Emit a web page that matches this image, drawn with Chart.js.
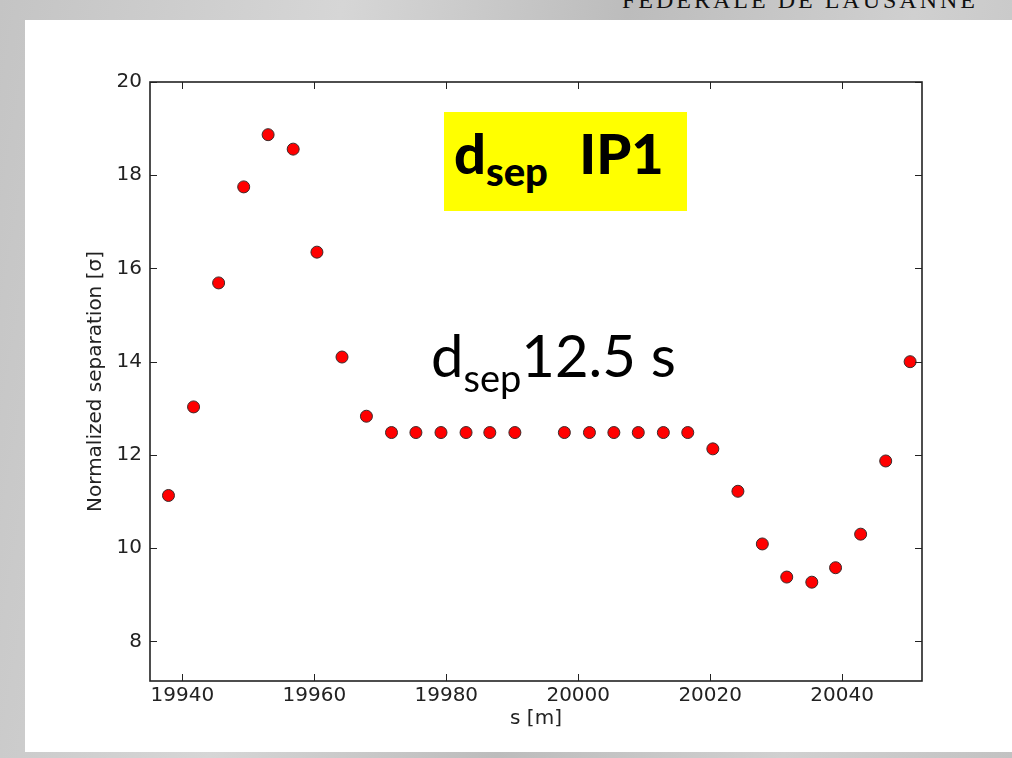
<!DOCTYPE html>
<html>
<head>
<meta charset="utf-8">
<title>Normalized separation IP1</title>
<script src="https://cdn.jsdelivr.net/npm/chart.js@4/dist/chart.umd.min.js"></script>
<style>
    html, body {
        margin: 0;
        padding: 0;
        width: 1012px;
        height: 758px;
        overflow: hidden;
    }
    body {
        position: relative;
        background: linear-gradient(100deg, #c4c4c4 0%, #d6d6d6 30%, #bcbcbc 55%, #d0d0d0 80%, #c2c2c2 100%);
    }
    #panel {
        position: absolute;
        left: 25px;
        top: 20px;
        width: 987px;
        height: 732px;
        background: #ffffff;
    }
    #header {
        position: absolute;
        left: 622px;
        top: -9px;
        width: 390px;
        height: 18px;
        overflow: hidden;
        font-family: "Liberation Serif", serif;
        font-size: 24px;
        line-height: 18px;
        letter-spacing: 3px;
        color: #111;
        white-space: nowrap;
    }
    #sep-chart {
        position: absolute;
        left: 0;
        top: 0;
    }
    #tag-box {
        position: absolute;
        left: 444px;
        top: 112px;
        width: 243px;
        height: 99px;
        background: #ffff00;
    }
    .label-line {
        position: absolute;
        font-family: Lato, "Open Sans", sans-serif;
        line-height: 1;
        white-space: nowrap;
        color: #000;
    }
    .label-line sub {
        vertical-align: baseline;
        position: relative;
    }
    #tag-text {
        left: 454px;
        top: 125px;
        font-size: 56px;
        font-weight: 900;
    }
    #tag-text sub {
        font-size: 40px;
        top: 12px;
    }
    #tag-text .ip {
        margin-left: 18px;
    }
    #note-text {
        left: 431px;
        top: 326px;
        font-size: 58px;
        font-weight: 400;
    }
    #note-text sub {
        font-size: 38px;
        top: 15px;
    }
</style>
</head>
<body>
<div id="panel"></div>
<div id="header">FÉDÉRALE DE LAUSANNE</div>
<canvas id="sep-chart" width="1012" height="758"></canvas>
<div id="tag-box"></div>
<div id="tag-text" class="label-line">d<sub>sep</sub> <span class="ip">IP1</span></div>
<div id="note-text" class="label-line">d<sub>sep</sub>12.5 s</div>

<script>
// Beam positions along the ring [m] and normalized separation [sigma]
const sPositions = [
    19937.9, 19941.7, 19945.5, 19949.3, 19953.0, 19956.8, 19960.4, 19964.2,
    19967.9, 19971.7, 19975.4, 19979.2, 19983.0, 19986.6, 19990.4,
    19997.9, 20001.7, 20005.4, 20009.1, 20012.9, 20016.6, 20020.4, 20024.2,
    20027.9, 20031.6, 20035.4, 20039.0, 20042.8, 20046.6, 20050.3
];
const separation = [
    11.13, 13.03, 15.69, 17.75, 18.87, 18.56, 16.35, 14.10,
    12.83, 12.48, 12.48, 12.48, 12.48, 12.48, 12.48,
    12.48, 12.48, 12.48, 12.48, 12.48, 12.48, 12.13, 11.22,
    10.09, 9.38, 9.27, 9.58, 10.30, 11.87, 14.00
];

// Axis ticks and limits
const xTickValues = [19940, 19960, 19980, 20000, 20020, 20040];
const yTickValues = [8, 10, 12, 14, 16, 18, 20];
const X_MIN = 19935.1;
const X_MAX = 20052.1;
const Y_MIN = 7.15;
const Y_MAX = 20;

const TICK_LEN = 7;
const AXIS_FONT = { family: '"DejaVu Sans", sans-serif', size: 20 };

// matplotlib style box: frame on all four sides with inward ticks
const frameTicks = {
    id: 'frameTicks',
    afterDatasetsDraw(chart) {
        const { ctx, chartArea: area, scales: { x, y } } = chart;
        ctx.save();
        ctx.strokeStyle = '#222';
        ctx.lineWidth = 1;
        ctx.beginPath();
        x.ticks.forEach(t => {
            const px = Math.round(x.getPixelForValue(t.value)) + 0.5;
            ctx.moveTo(px, area.bottom);
            ctx.lineTo(px, area.bottom - TICK_LEN);
            ctx.moveTo(px, area.top);
            ctx.lineTo(px, area.top + TICK_LEN);
        });
        y.ticks.forEach(t => {
            const py = Math.round(y.getPixelForValue(t.value)) + 0.5;
            ctx.moveTo(area.left, py);
            ctx.lineTo(area.left + TICK_LEN, py);
            ctx.moveTo(area.right, py);
            ctx.lineTo(area.right - TICK_LEN, py);
        });
        ctx.stroke();
        ctx.lineWidth = 1.6;
        ctx.strokeRect(area.left, area.top, area.right - area.left, area.bottom - area.top);
        ctx.restore();
    }
};

const points = sPositions.map((s, i) => ({ x: s, y: separation[i] }));

new Chart(document.getElementById('sep-chart'), {
    type: 'scatter',
    data: {
        datasets: [{
            label: 'd_sep',
            data: points,
            backgroundColor: '#ff0000',
            borderColor: '#3a2a2a',
            borderWidth: 1,
            pointRadius: 6,
            pointHoverRadius: 6
        }]
    },
    options: {
        responsive: false,
        maintainAspectRatio: false,
        devicePixelRatio: 1,
        animation: false,
        layout: {
            padding: { top: 82, right: 90, left: 0, bottom: 0 }
        },
        plugins: {
            legend: { display: false },
            tooltip: { enabled: false }
        },
        scales: {
            x: {
                type: 'linear',
                min: X_MIN,
                max: X_MAX,
                afterFit: (scale) => { scale.height = 77; },
                afterBuildTicks: (scale) => {
                    scale.ticks = xTickValues.map(v => ({ value: v }));
                },
                grid: { display: false, drawTicks: false },
                border: { display: false },
                ticks: {
                    autoSkip: false,
                    maxRotation: 0,
                    padding: 3,
                    color: '#222',
                    font: AXIS_FONT,
                    callback: (value) => String(value)
                },
                title: {
                    display: true,
                    text: 's [m]',
                    color: '#222',
                    font: AXIS_FONT,
                    padding: { top: 0, bottom: 27 }
                }
            },
            y: {
                type: 'linear',
                min: Y_MIN,
                max: Y_MAX,
                afterFit: (scale) => { scale.width = 150; },
                afterBuildTicks: (scale) => {
                    scale.ticks = yTickValues.map(v => ({ value: v }));
                },
                grid: { display: false, drawTicks: false },
                border: { display: false },
                ticks: {
                    autoSkip: false,
                    padding: 8,
                    color: '#222',
                    font: AXIS_FONT,
                    callback: (value) => String(value)
                },
                title: {
                    display: true,
                    text: 'Normalized separation [σ]',
                    color: '#222',
                    font: AXIS_FONT,
                    padding: { top: 84, bottom: 0 }
                }
            }
        }
    },
    plugins: [frameTicks]
});
</script>
</body>
</html>
